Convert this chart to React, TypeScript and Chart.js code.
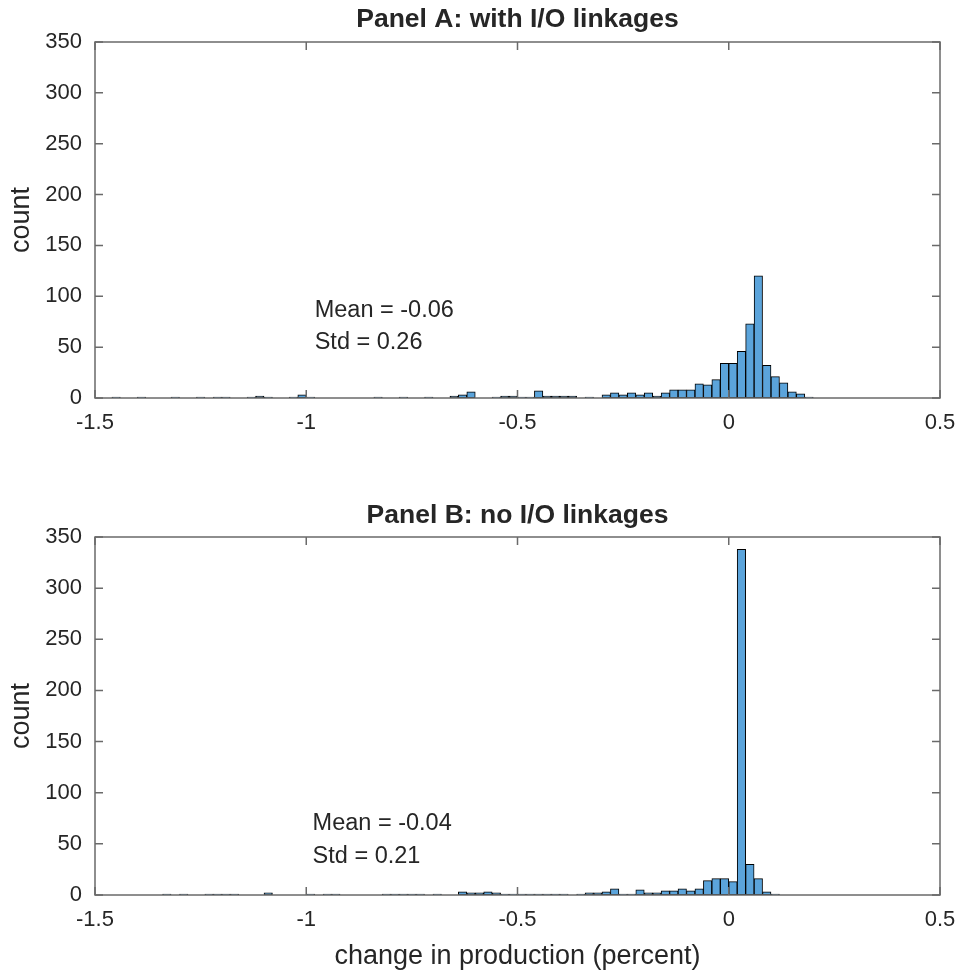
import React, { useEffect, useRef } from 'react';
import { Chart, registerables } from 'chart.js';

Chart.register(...registerables);

const BIN_WIDTH = 0.02;
const X_TICKS = [-1.5, -1, -0.5, 0, 0.5];
const Y_TICKS = [0, 50, 100, 150, 200, 250, 300, 350];

// Panel A: left edges of non-empty bins and their counts
const binsA = [
  -1.46, -1.4, -1.32, -1.26, -1.22, -1.2, -1.14, -1.12, -1.1, -1.04, -1.02, -1.0,
  -0.84, -0.78, -0.72, -0.66, -0.64, -0.62, -0.56, -0.54, -0.52, -0.5, -0.48, -0.46,
  -0.44, -0.42, -0.4, -0.38, -0.34, -0.3, -0.28, -0.26, -0.24, -0.22, -0.2, -0.18,
  -0.16, -0.14, -0.12, -0.1, -0.08, -0.06, -0.04, -0.02, 0.0, 0.02, 0.04, 0.06,
  0.08, 0.1, 0.12, 0.14, 0.16, 0.18,
];
const countsA = [
  1, 1, 1, 1, 1, 1, 1, 2, 1, 1, 3, 1,
  1, 1, 1, 2, 3, 6, 1, 2, 2, 1, 1, 7,
  2, 2, 2, 2, 1, 3, 5, 3, 5, 3, 5, 2,
  5, 8, 8, 8, 14, 13, 18, 34, 34, 46, 73, 120,
  32, 21, 15, 6, 4, 1,
];

// Panel B: left edges of non-empty bins and their counts
const binsB = [
  -1.34, -1.3, -1.24, -1.22, -1.2, -1.18, -1.1, -1.0, -0.96, -0.94, -0.82, -0.8,
  -0.78, -0.76, -0.74, -0.7, -0.64, -0.62, -0.6, -0.58, -0.56, -0.54, -0.52, -0.5,
  -0.48, -0.46, -0.44, -0.42, -0.4, -0.36, -0.34, -0.32, -0.3, -0.28, -0.26, -0.24,
  -0.22, -0.2, -0.18, -0.16, -0.14, -0.12, -0.1, -0.08, -0.06, -0.04, -0.02, 0.0,
  0.02, 0.04, 0.06, 0.08, 0.1,
];
const countsB = [
  1, 1, 1, 1, 1, 1, 2, 1, 1, 1, 1, 1,
  1, 1, 1, 1, 3, 2, 2, 3, 2, 1, 1, 1,
  1, 1, 1, 1, 1, 1, 2, 2, 3, 6, 1, 1,
  5, 2, 2, 4, 4, 6, 4, 6, 14, 16, 16, 13,
  338, 30, 16, 3, 1,
];

const titleA = 'Panel A: with I/O linkages';
const titleB = 'Panel B: no I/O linkages';
const statsA = ['Mean = -0.06', 'Std = 0.26'];
const statsB = ['Mean = -0.04', 'Std = 0.21'];
const X_LABEL = 'change in production (percent)';
const Y_LABEL = 'count';

const FONT = '"Liberation Sans", Arial, Helvetica, sans-serif';
const TEXT_COLOR = '#262626';
const AXIS_COLOR = '#6a6a6a';
const BAR_COLOR = '#5ba4db';

type Spec = {
  bins: number[];
  counts: number[];
  title: string;
  stats: string[];
  statX: number;
  statY: number[];
  height: number;
  plotTop: number;
  plotBottom: number;
  titleY: number;
  xLabelY?: number;
};

function Panel({ spec, top }: { spec: Spec; top: number }) {
  const ref = useRef<HTMLCanvasElement | null>(null);
  useEffect(() => {
    if (!ref.current) return;
    const data = spec.bins.map((b, i) => ({
      x: Math.round((b + BIN_WIDTH / 2) * 1000) / 1000,
      y: spec.counts[i],
    }));
    const frame = {
      id: 'frame',
      afterDraw(chart: any) {
        const { ctx, chartArea } = chart;
        const { left, right, top: t, bottom } = chartArea;
        const xs = chart.scales.x;
        const ys = chart.scales.y;
        ctx.save();
        ctx.strokeStyle = AXIS_COLOR;
        ctx.lineWidth = 1.5;
        ctx.strokeRect(left, t, right - left, bottom - t);
        const TL = 8;
        ctx.beginPath();
        X_TICKS.forEach((v) => {
          const px = xs.getPixelForValue(v);
          ctx.moveTo(px, bottom);
          ctx.lineTo(px, bottom - TL);
          ctx.moveTo(px, t);
          ctx.lineTo(px, t + TL);
        });
        Y_TICKS.forEach((v) => {
          const py = ys.getPixelForValue(v);
          ctx.moveTo(left, py);
          ctx.lineTo(left + TL, py);
          ctx.moveTo(right, py);
          ctx.lineTo(right - TL, py);
        });
        ctx.stroke();

        ctx.fillStyle = TEXT_COLOR;
        // title
        ctx.font = `bold 26.5px ${FONT}`;
        ctx.textAlign = 'center';
        ctx.textBaseline = 'middle';
        ctx.fillText(spec.title, (left + right) / 2, spec.titleY);
        // y label
        ctx.save();
        ctx.font = `27px ${FONT}`;
        ctx.translate(22, (t + bottom) / 2);
        ctx.rotate(-Math.PI / 2);
        ctx.fillText(Y_LABEL, 0, 0);
        ctx.restore();
        // x label
        if (spec.xLabelY !== undefined) {
          ctx.font = `27px ${FONT}`;
          ctx.fillText(X_LABEL, (left + right) / 2, spec.xLabelY);
        }
        // stats
        ctx.font = `23.5px ${FONT}`;
        ctx.textAlign = 'left';
        spec.stats.forEach((s, i) => {
          ctx.fillText(s, xs.getPixelForValue(spec.statX), ys.getPixelForValue(spec.statY[i]));
        });
        ctx.restore();
      },
    };
    const chart = new Chart(ref.current, {
      type: 'bar',
      data: {
        datasets: [
          {
            data,
            backgroundColor: BAR_COLOR,
            borderColor: '#000000',
            borderWidth: 1,
            borderSkipped: false,
            barPercentage: 1,
            categoryPercentage: 1,
          } as any,
        ],
      },
      options: {
        animation: false,
        responsive: false,
        layout: { padding: { top: spec.plotTop, right: 16, left: 0, bottom: 0 } },
        plugins: {
          legend: { display: false },
          tooltip: { enabled: false },
          title: { display: false },
        },
        scales: {
          x: {
            type: 'linear',
            min: -1.5,
            max: 0.5,
            offset: false,
            afterBuildTicks: (s: any) => {
              s.ticks = X_TICKS.map((v) => ({ value: v }));
            },
            afterFit: (s: any) => {
              s.height = spec.height - spec.plotBottom;
              s.paddingLeft = 0;
              s.paddingRight = 0;
            },
            ticks: {
              autoSkip: false,
              maxRotation: 0,
              minRotation: 0,
              padding: 12,
              color: TEXT_COLOR,
              font: { family: FONT, size: 22 },
              callback: (v: any) => String(v),
            },
            grid: { display: false, drawTicks: false },
            border: { display: false },
          },
          y: {
            type: 'linear',
            min: 0,
            max: 350,
            afterBuildTicks: (s: any) => {
              s.ticks = Y_TICKS.map((v) => ({ value: v }));
            },
            afterFit: (s: any) => {
              s.width = 95;
              s.paddingTop = 0;
              s.paddingBottom = 0;
            },
            ticks: {
              padding: 13,
              color: TEXT_COLOR,
              font: { family: FONT, size: 22 },
            },
            grid: { display: false, drawTicks: false },
            border: { display: false },
          },
        },
      },
      plugins: [frame],
    } as any);
    return () => chart.destroy();
  }, [spec]);
  return (
    <canvas
      ref={ref}
      width={956}
      height={spec.height}
      style={{ position: 'absolute', left: 0, top, width: 956, height: spec.height, display: 'block' }}
    />
  );
}

const specA: Spec = {
  bins: binsA,
  counts: countsA,
  title: titleA,
  stats: statsA,
  statX: -0.98,
  statY: [86, 55],
  height: 470,
  plotTop: 42,
  plotBottom: 398,
  titleY: 20,
};

const specB: Spec = {
  bins: binsB,
  counts: countsB,
  title: titleB,
  stats: statsB,
  statX: -0.985,
  statY: [70, 38],
  height: 505,
  plotTop: 67,
  plotBottom: 425,
  titleY: 46,
  xLabelY: 487,
};

export default function App() {
  return (
    <div style={{ position: 'absolute', left: 0, top: 0, width: 956, height: 975, background: '#ffffff' }}>
      <Panel spec={specA} top={0} />
      <Panel spec={specB} top={470} />
    </div>
  );
}
